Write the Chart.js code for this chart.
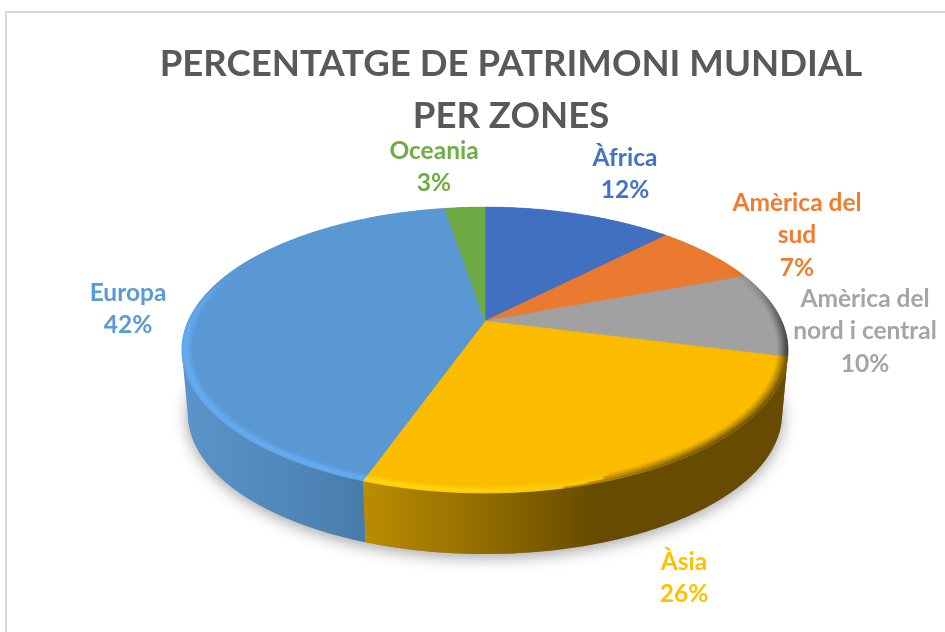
<!DOCTYPE html>
<html><head><meta charset="utf-8">
<style>html,body{margin:0;padding:0;background:#fff}canvas{display:block}</style>
<script src="https://cdn.jsdelivr.net/npm/chart.js@4"></script>
</head><body>
<div style="width:945px;height:632px"><canvas id="c" width="945" height="632"></canvas></div>
<script>
const titleLines = ['PERCENTATGE DE PATRIMONI MUNDIAL', 'PER ZONES'];
const categories = ['Àfrica', 'Amèrica del sud', 'Amèrica del nord i central', 'Àsia', 'Europa', 'Oceania'];
const shares = [12.3, 7, 9.7, 26.4, 42, 2.6];
const labelLines = [['Àfrica'], ['Amèrica del', 'sud'], ['Amèrica del', 'nord i central'], ['Àsia'], ['Europa'], ['Oceania']];

const sliceColors = ['#4170c1', '#e97a2f', '#a1a1a1', '#fbbc00', '#5a98d4', '#6eab45'];
const labelColors = ['#4472c4', '#ed7d31', '#a5a5a5', '#ffc000', '#5b9bd5', '#70ad47'];
const rimLight = ['#4170c1', '#e97a2f', '#a1a1a1', '#ffd810', '#66aef2', '#6eab45'];
const rimDark = ['#2c4d85', '#8a4a1c', '#383838', '#664b00', '#3f6f9c', '#456b2b'];
const wallStops = [
  [[0, '#2c4d85'], [1, '#2c4d85']],
  [[0, '#8a4a1c'], [1, '#8a4a1c']],
  [[0, '#555555'], [1, '#555555']],
  [[0, '#bb8d00'], [0.3, '#8f6a00'], [0.55, '#664b00'], [1, '#664b00']],
  [[0, '#5a94ca'], [0.45, '#4f86b8'], [1, '#3f6d99']],
  [[0, '#456b2b'], [1, '#456b2b']]
];
const labelCenters = [[625, 158], [797, 203], [865, 299], [684, 562], [128, 293], [434, 151]];

// Perspective projection of the pie disc
const top3d = {cx: 485, cy: 321, a: 296.7, b: 137};
const bottom3d = {cx: 485, cy: 385.5, a: 290.8, b: 134.3};
const persp = 0.203;
const rimWidth = 0.035;
const DEG = Math.PI / 180;

function project(p, theta, r) {
  const u = r * Math.sin(theta), v = r * Math.cos(theta), d = 1 + persp * v;
  return [p.cx + p.a * u / d, p.cy - p.b * v / d];
}
function smooth(a, b, x) { const t = Math.min(1, Math.max(0, (x - a) / (b - a))); return t * t * (3 - 2 * t); }
function hex(c) { return [1, 3, 5].map(i => parseInt(c.substr(i, 2), 16)); }
function mix(c1, c2, t) { const a = hex(c1), b = hex(c2); return 'rgb(' + a.map((x, i) => Math.round(x + (b[i] - x) * t)).join(',') + ')'; }
function trace(ctx, pts) { pts.forEach((q, i) => i ? ctx.lineTo(q[0], q[1]) : ctx.moveTo(q[0], q[1])); }
function area(q) { let s = 0; q.forEach((a, i) => { const b = q[(i + 1) % q.length]; s += a[0] * b[1] - b[0] * a[1]; }); return s; }
function arcPts(p, t0, t1, r) {
  const n = Math.max(2, Math.ceil(Math.abs(t1 - t0) / DEG)), out = [];
  for (let i = 0; i <= n; i++) out.push(project(p, t0 + (t1 - t0) * i / n, r));
  return out;
}

const pie3d = {
  id: 'pie3d',
  beforeDraw(chart) {
    const ctx = chart.ctx;
    ctx.save();
    ctx.fillStyle = '#fff';
    ctx.fillRect(0, 0, chart.width, chart.height);
    ctx.strokeStyle = '#d9d9d9';
    ctx.lineWidth = 2;
    ctx.beginPath();
    ctx.moveTo(6, chart.height); ctx.lineTo(6, 12); ctx.lineTo(chart.width, 12);
    ctx.stroke();
    ctx.restore();
  },
  beforeDatasetsDraw(chart) {
    const ctx = chart.ctx, arcs = chart.getDatasetMeta(0).data;
    const range = arcs.map(a => [a.startAngle + Math.PI / 2, a.endAngle + Math.PI / 2]);
    ctx.save();
    // ground shadow
    ctx.save();
    ctx.shadowColor = 'rgba(0,0,0,0.38)';
    ctx.shadowBlur = 16;
    ctx.shadowOffsetY = 3;
    ctx.fillStyle = '#888';
    ctx.beginPath();
    trace(ctx, arcPts(bottom3d, 0, 2 * Math.PI, 1));
    ctx.closePath(); ctx.fill();
    ctx.restore();
    // side walls: one path of consistently wound strips, so the silhouette fold stays filled without seams
    range.forEach(([t0, t1], i) => {
      const up = arcPts(top3d, t0, t1, 1), low = arcPts(bottom3d, t0, t1, 1);
      const xs = up.concat(low).map(q => q[0]);
      const x0 = Math.min(...xs), x1 = Math.max(...xs);
      const g = ctx.createLinearGradient(x0, 0, x1, 0);
      wallStops[i].forEach(s => g.addColorStop(s[0], s[1]));
      ctx.fillStyle = g;
      ctx.beginPath();
      for (let s = 0; s < up.length - 1; s++) {
        let q = [up[s], up[s + 1], low[s + 1], low[s]];
        if (area(q) < 0) q = q.reverse();
        trace(ctx, q);
        ctx.closePath();
      }
      ctx.fill('nonzero');
    });
    // top face
    range.forEach(([t0, t1], i) => {
      ctx.fillStyle = ctx.strokeStyle = sliceColors[i];
      ctx.lineWidth = 0.6;
      ctx.beginPath();
      trace(ctx, [[top3d.cx, top3d.cy]].concat(arcPts(top3d, t0, t1, 1)));
      ctx.closePath(); ctx.fill(); ctx.stroke();
    });
    // bevelled rim
    const rings = 8;
    range.forEach(([t0, t1], i) => {
      const steps = Math.ceil((t1 - t0) / DEG);
      for (let s = 0; s < steps; s++) {
        const a0 = t0 + (t1 - t0) * s / steps, a1 = t0 + (t1 - t0) * (s + 1) / steps;
        const deg = (a0 + a1) / 2 / DEG;
        const w = smooth(60, 105, deg) * (1 - smooth(265, 300, deg));
        if (w <= 0) continue;
        const lit = smooth(135, 195, deg);
        for (let k = 0; k < rings; k++) {
          const f = (k + 0.5) / rings;
          const r0 = 1 - rimWidth * (1 - k / rings), r1 = 1 - rimWidth * (1 - (k + 1) / rings);
          const bell = f < 0.7 ? f / 0.7 : 1 - (f - 0.7) / 0.3 * 0.35;
          const dark = Math.pow(f, 1.1) * w * (1 - lit);
          const col = lit > 0.01 && lit * bell * w > dark
            ? mix(sliceColors[i], rimLight[i], lit * bell * w)
            : mix(sliceColors[i], rimDark[i], dark);
          ctx.fillStyle = ctx.strokeStyle = col;
          ctx.lineWidth = 0.5;
          ctx.beginPath();
          trace(ctx, [project(top3d, a0, r0), project(top3d, a1, r0), project(top3d, a1, r1), project(top3d, a0, r1)]);
          ctx.closePath(); ctx.fill(); ctx.stroke();
        }
      }
    });
    // data labels
    ctx.font = 'bold 24.5px Lato';
    ctx.textAlign = 'center';
    ctx.textBaseline = 'middle';
    chart.data.datasets[0].data.forEach((v, i) => {
      const lines = labelLines[i].concat(Math.round(v) + '%');
      ctx.fillStyle = labelColors[i];
      lines.forEach((t, n) => ctx.fillText(t, labelCenters[i][0], labelCenters[i][1] + n * 32.5));
    });
    ctx.restore();
    return false;
  }
};

new Chart(document.getElementById('c'), {
  type: 'pie',
  data: {labels: categories, datasets: [{data: shares, backgroundColor: sliceColors, borderWidth: 0}]},
  options: {
    responsive: false,
    animation: false,
    rotation: 0,
    layout: {padding: {left: 77}},
    plugins: {
      legend: {display: false},
      tooltip: {enabled: false},
      title: {
        display: true,
        text: titleLines,
        color: '#595959',
        font: {family: 'Lato', weight: 'bold', size: 36.6, lineHeight: 1.42},
        padding: {top: 38, bottom: 0}
      }
    }
  },
  plugins: [pie3d]
});
</script>
</body></html>
